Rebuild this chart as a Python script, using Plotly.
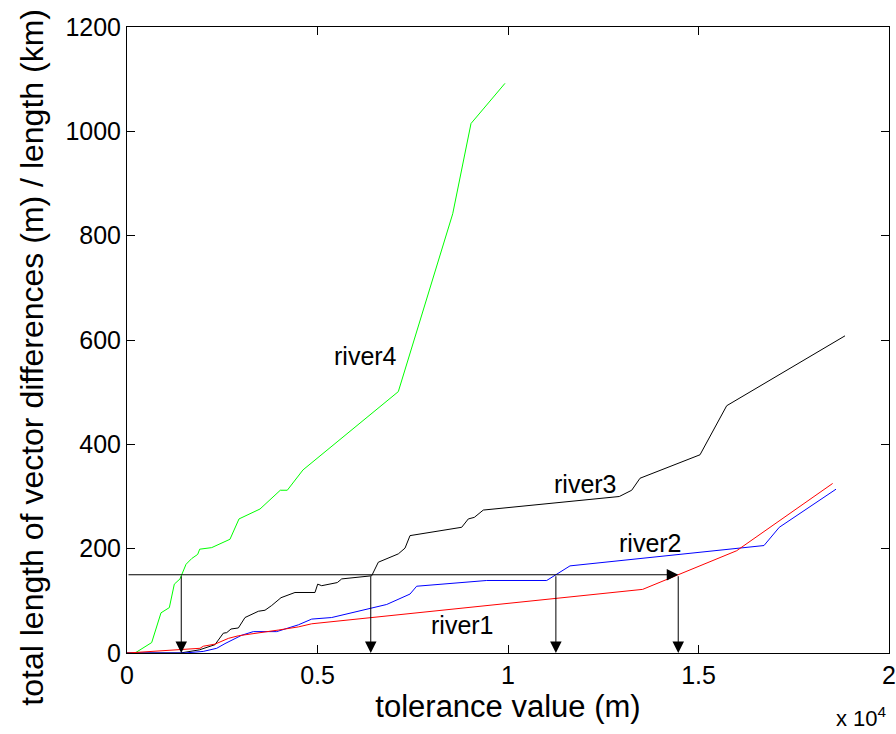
import plotly.graph_objects as go

# ---- data ----
river1_x = [0, 1391, 1916, 2003, 2310, 2660, 2923, 3972, 4497, 4848, 13535, 16000, 18521]
river1_y = [0, 6, 9, 13, 17, 28, 33, 44, 50, 56, 122, 196, 325]

river2_x = [0, 1500, 2000, 2354, 2572, 3010, 3315, 3928, 4497, 4848, 5373, 6816, 7428, 7603,
            9441, 11016, 11627, 16719, 17121, 18609]
river2_y = [0, 0, 3, 9, 18, 34, 41, 41, 54, 65, 68, 93, 113, 128, 139, 139, 167, 206, 241, 314]

river3_x = [0, 1400, 1900, 2310, 2528, 2617, 2730, 2923, 3097, 3447, 3622, 3797, 4042, 4409,
            4934, 5005, 5110, 5520, 5635, 6422, 6596, 7121, 7297, 7428, 8785, 8958, 9116, 9352,
            12921, 13247, 13465, 15040, 15740, 18845]
river3_y = [0, 0, 6, 16, 38, 39, 46, 48, 68, 80, 82, 91, 106, 116, 116, 132, 129, 135, 142,
            148, 174, 190, 201, 225, 241, 257, 260, 274, 300, 312, 335, 380, 474, 608]

river4_x = [0, 210, 648, 892, 1111, 1242, 1391, 1549, 1697, 1855, 1908, 2223, 2703, 2940,
            3491, 4024, 4207, 4620, 7121, 8549, 9029, 9921]
river4_y = [0, 0, 20, 77, 87, 132, 142, 170, 181, 189, 199, 202, 218, 257, 276, 312, 312,
            351, 501, 842, 1015, 1092]

threshold = 150
arrow_x = [1424, 6398, 11257, 14468]

x_tickvals = [0, 5000, 10000, 15000, 20000]
x_ticktext = ["0", "0.5", "1", "1.5", "2"]
y_tickvals = [0, 200, 400, 600, 800, 1000, 1200]

label_names = ["river1", "river2", "river3", "river4"]
label_x = [8793, 13727, 12047, 6247]
label_y = [54, 211, 324, 569]

x_title = "tolerance value (m)"
y_title = "total length of vector differences (m) / length (km)"

FONT = "Liberation Sans, Arial, Helvetica, sans-serif"

fig = go.Figure()
for xs, ys, col in [(river4_x, river4_y, "#00ff00"),
                    (river3_x, river3_y, "#000000"),
                    (river2_x, river2_y, "#0000ff"),
                    (river1_x, river1_y, "#ff0000")]:
    fig.add_trace(go.Scatter(x=xs, y=ys, mode="lines",
                             line=dict(color=col, width=1), showlegend=False))

annotations = []
# horizontal arrow
annotations.append(dict(x=arrow_x[-1], y=threshold, ax=0, ay=threshold,
                        xref="x", yref="y", axref="x", ayref="y",
                        showarrow=True, arrowhead=2, arrowsize=2.3, arrowwidth=1,
                        arrowcolor="#000000", text=""))
for ax_ in arrow_x:
    annotations.append(dict(x=ax_, y=0, ax=ax_, ay=threshold,
                            xref="x", yref="y", axref="x", ayref="y",
                            showarrow=True, arrowhead=2, arrowsize=2.3, arrowwidth=1,
                            arrowcolor="#000000", text=""))
for n, lx, ly in zip(label_names, label_x, label_y):
    annotations.append(dict(x=lx, y=ly, xref="x", yref="y", text=n, showarrow=False,
                            font=dict(family=FONT, size=25, color="#000000")))
annotations.append(dict(x=1.0, y=-0.102, xref="paper", yref="paper",
                        text="x 10<sup>4</sup>", showarrow=False,
                        xanchor="right", yanchor="middle",
                        font=dict(family=FONT, size=22, color="#000000")))
# y axis title as rotated annotation
annotations.append(dict(x=-0.125, y=0.473, xref="paper", yref="paper",
                        text=y_title, textangle=-90, showarrow=False,
                        xanchor="center", yanchor="middle",
                        font=dict(family=FONT, size=32, color="#000000")))

fig.update_layout(
    width=896, height=734,
    margin=dict(l=127, r=7, t=27, b=81, autoexpand=False),
    paper_bgcolor="white", plot_bgcolor="white",
    font=dict(family=FONT, size=22, color="#000000"),
    annotations=annotations,
    xaxis=dict(range=[0, 20000], tickvals=x_tickvals, ticktext=x_ticktext,
               ticks="inside", ticklen=8, tickcolor="#000000", mirror="ticks",
               showline=True, linecolor="#000000", linewidth=1, showgrid=False,
               zeroline=False, automargin=False,
               title=dict(text=x_title, font=dict(size=31), standoff=0),
               tickfont=dict(size=25)),
    yaxis=dict(range=[0, 1200], tickvals=y_tickvals,
               ticks="inside", ticklen=8, tickcolor="#000000", mirror="ticks",
               showline=True, linecolor="#000000", linewidth=1, showgrid=False,
               zeroline=False, automargin=False,
               tickfont=dict(size=25)),
)

fig.write_html("out.html", config={"displayModeBar": False},
               post_script="document.body.style.margin='0px';document.body.style.overflow='hidden';")
